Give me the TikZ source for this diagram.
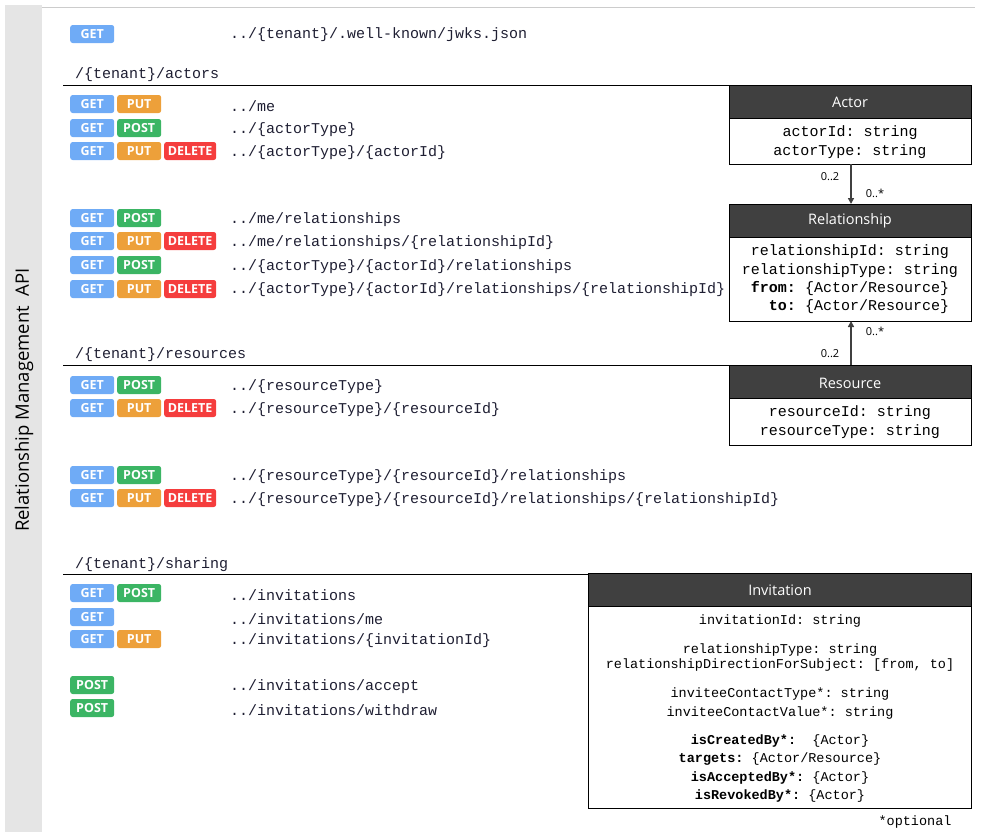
\documentclass[tikz,border=0pt]{standalone}
\usepackage{fontspec}
\setmainfont{Open Sans}
\setmonofont{Liberation Mono}
\usetikzlibrary{arrows.meta}
\definecolor{cget}{RGB}{111,171,246}
\definecolor{cput}{RGB}{237,160,58}
\definecolor{cpost}{RGB}{59,181,100}
\definecolor{cdel}{RGB}{245,61,61}
\definecolor{hdr}{RGB}{64,64,64}
\definecolor{path}{RGB}{30,30,50}
\tikzset{
 badge/.style={rounded corners=2.5pt,minimum height=18pt,inner sep=0pt,text=white,font=\bfseries\fontsize{12.5}{12.5}\selectfont,anchor=west},
 bget/.style={badge,fill=cget,minimum width=44pt},
 bput/.style={badge,fill=cput,minimum width=44pt},
 bpost/.style={badge,fill=cpost,minimum width=44pt},
 bdel/.style={badge,fill=cdel,minimum width=52pt},
 ptxt/.style={anchor=west,font=\ttfamily\fontsize{15}{15}\selectfont,text=path,inner sep=0pt},
 sect/.style={anchor=west,font=\ttfamily\fontsize{15}{15}\selectfont,text=path,inner sep=0pt},
 hbox/.style={draw=black,fill=hdr,line width=0.8pt},
 htxt/.style={text=white,font=\fontsize{14.5}{14.5}\selectfont,inner sep=0pt},
 bbox/.style={draw=black,fill=white,line width=0.8pt},
 ftxt/.style={font=\ttfamily\fontsize{15}{15}\selectfont,inner sep=0pt},
 itxt/.style={font=\ttfamily\fontsize{13.5}{13.5}\selectfont,inner sep=0pt},
 mult/.style={font=\fontsize{11}{11}\selectfont,inner sep=0pt},
}
\newcommand{\gp}[1]{\node[bget] at (70,#1) {GET};\node[bput] at (117,#1) {PUT};}
\newcommand{\gs}[1]{\node[bget] at (70,#1) {GET};\node[bpost] at (117,#1) {POST};}
\newcommand{\gpd}[1]{\node[bget] at (70,#1) {GET};\node[bput] at (117,#1) {PUT};\node[bdel] at (164,#1) {DELETE};}
\begin{document}
\begin{tikzpicture}[x=1pt,y=-1pt]
\useasboundingbox (0,0) rectangle (982,836);
\fill[gray!20] (5,5) rectangle (42,832);
\draw[gray!40] (42,7) -- (975,7);
\node[rotate=90,font=\fontsize{18.5}{18.5}\selectfont] (title) at (24,400) {Relationship Management\ \ API};
% jwks
\node[bget] (g0) at (70,34) {GET}; \node[ptxt] (p0) at (230,35) {../\{tenant\}/.well-known/jwks.json};
% actors
\node[sect] (s1) at (75,75) {/\{tenant\}/actors};
\draw (63,85) -- (729,85);
\gp{104} \node[ptxt] at (230,106) {../me};
\gs{128} \node[ptxt] at (230,130) {../\{actorType\}};
\gpd{151} \node[ptxt] at (230,153) {../\{actorType\}/\{actorId\}};
\gs{218} \node[ptxt] at (230,220) {../me/relationships};
\gpd{241} \node[ptxt] at (230,243) {../me/relationships/\{relationshipId\}};
\gs{265} \node[ptxt] at (230,267) {../\{actorType\}/\{actorId\}/relationships};
\gpd{289} \node[ptxt] at (230,290) {../\{actorType\}/\{actorId\}/relationships/\{relationshipId\}};
% resources
\node[sect] (s2) at (75,355) {/\{tenant\}/resources};
\draw (63,365) -- (729,365);
\gs{385} \node[ptxt] at (230,387) {../\{resourceType\}};
\gpd{408} \node[ptxt] at (230,410) {../\{resourceType\}/\{resourceId\}};
\gs{475} \node[ptxt] at (230,477) {../\{resourceType\}/\{resourceId\}/relationships};
\gpd{498} \node[ptxt] at (230,500) {../\{resourceType\}/\{resourceId\}/relationships/\{relationshipId\}};
% sharing
\node[sect] (s3) at (75,565) {/\{tenant\}/sharing};
\draw (63,574) -- (588,574);
\gs{593} \node[ptxt] at (230,595) {../invitations};
\node[bget] at (70,617) {GET}; \node[ptxt] at (230,619) {../invitations/me};
\gp{639} \node[ptxt] at (230,641) {../invitations/\{invitationId\}};
\node[bpost] at (70,685) {POST}; \node[ptxt] at (230,687) {../invitations/accept};
\node[bpost] at (70,708) {POST}; \node[ptxt] at (230,710) {../invitations/withdraw};
% Actor
\draw[bbox] (729,118) rectangle (971,164);
\draw[hbox] (729,85) rectangle (971,118);
\node[htxt] (actor) at (850,102) {Actor};
\node[ftxt] at (850,133) {actorId: string};
\node[ftxt] at (850,152) {actorType: string};
\coordinate (abot) at (851,164);
% Relationship
\draw[bbox] (729,237) rectangle (971,321);
\draw[hbox] (729,204) rectangle (971,237);
\node[htxt] (rel) at (850,221) {Relationship};
\node[ftxt] at (850,252) {relationshipId: string};
\node[ftxt] at (850,271) {relationshipType: string};
\node[ftxt] at (850,289) {\textbf{from:} \{Actor/Resource\}};
\node[ftxt] at (850,307) {\ \ \textbf{to:} \{Actor/Resource\}};
\coordinate (rtop) at (851,204);
\coordinate (rbot) at (851,321);
% Resource
\draw[bbox] (729,398) rectangle (971,445);
\draw[hbox] (729,365) rectangle (971,398);
\node[htxt] (res) at (850,383) {Resource};
\node[ftxt] at (850,413) {resourceId: string};
\node[ftxt] at (850,432) {resourceType: string};
\coordinate (stop) at (851,365);
\draw[-{Triangle[length=6pt,width=6pt]},line width=1.6pt,black!75] (abot) -- (rtop);
\draw[-{Triangle[length=6pt,width=6pt]},line width=1.6pt,black!75] (stop) -- (rbot);
\node[mult] at (830,177) {0..2};
\node[mult] at (875,193) {0..*};
\node[mult] at (875,331) {0..*};
\node[mult] at (830,354) {0..2};
% Invitation
\draw[bbox] (588,606) rectangle (971,808);
\draw[hbox] (588,573) rectangle (971,606);
\node[htxt] (inv) at (780,590) {Invitation};
\node[itxt] at (780,621) {invitationId: string};
\node[itxt] at (780,650) {relationshipType: string};
\node[itxt] at (780,665) {relationshipDirectionForSubject: [from, to]};
\node[itxt] at (780,694) {inviteeContactType*: string};
\node[itxt] at (780,713) {inviteeContactValue*: string};
\node[itxt] at (780,741) {\textbf{isCreatedBy*:}\ \ \{Actor\}};
\node[itxt] at (780,759) {\textbf{targets:} \{Actor/Resource\}};
\node[itxt] at (780,778) {\textbf{isAcceptedBy*:} \{Actor\}};
\node[itxt] at (780,796) {\textbf{isRevokedBy*:} \{Actor\}};
\node[itxt] (opt) at (915,822) {*optional};
\end{tikzpicture}
\end{document}
